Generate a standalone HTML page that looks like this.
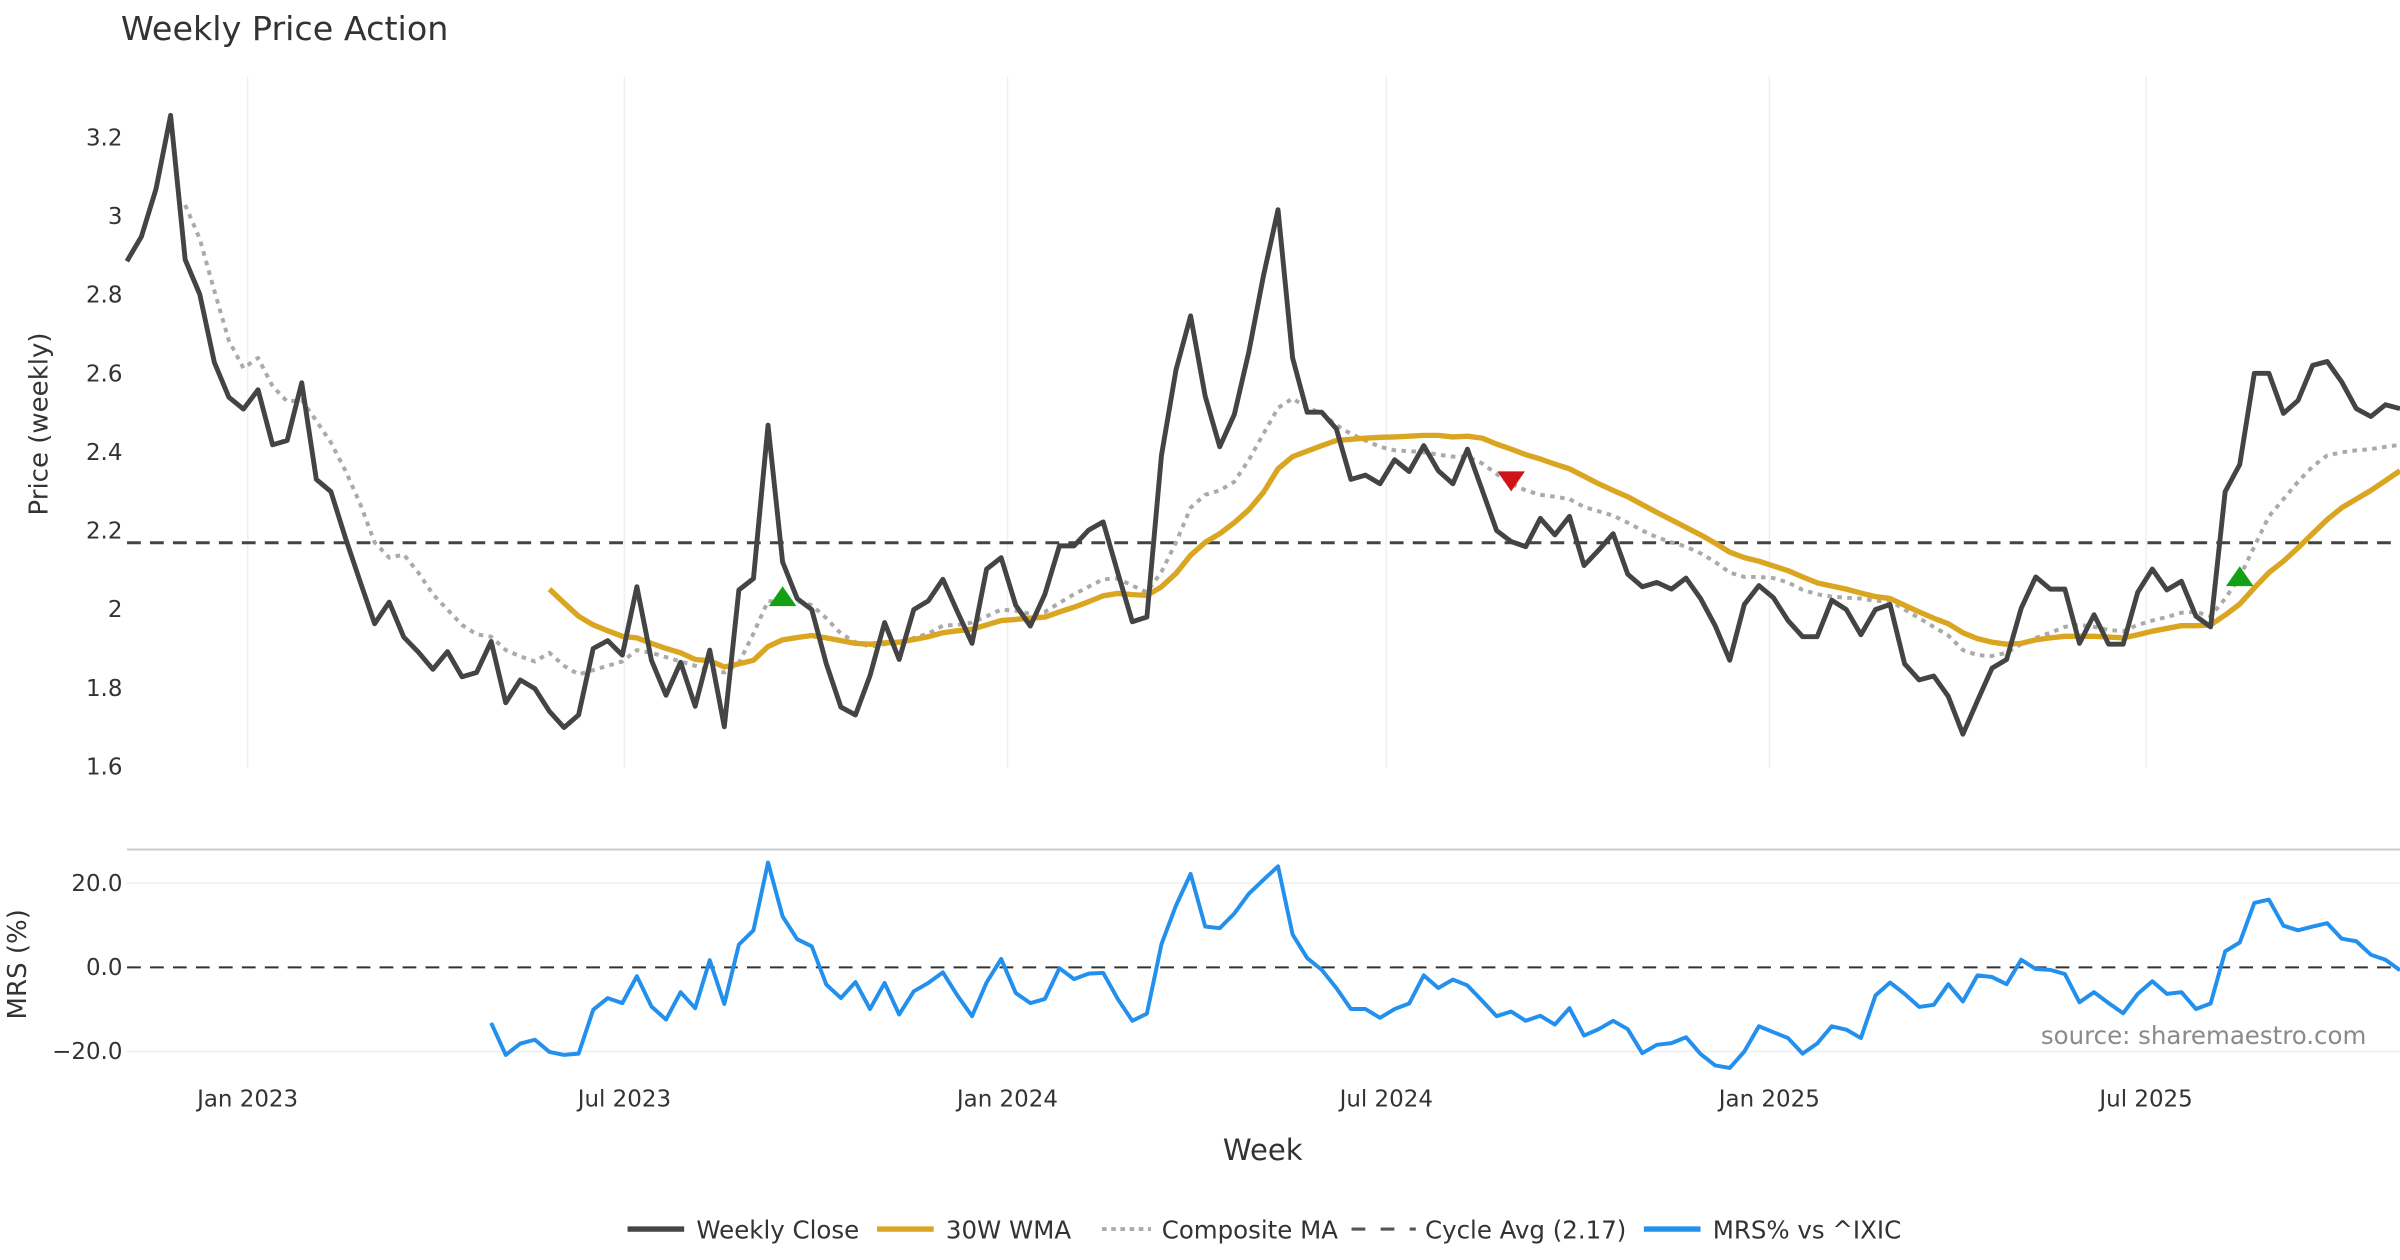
<!DOCTYPE html>
<html><head><meta charset="utf-8"><style>
html,body{margin:0;padding:0;background:#fff;}
svg{display:block;font-family:"DejaVu Sans","Liberation Sans",sans-serif;}
</style></head><body>
<svg id="chart" width="2400" height="1260" viewBox="0 0 1568 823.2" xmlns="http://www.w3.org/2000/svg">
<rect x="0" y="0" width="1568" height="823.2" fill="#fff"/>
<text x="79" y="26" font-size="21.8" fill="#333">Weekly Price Action</text>
<g id="grid"></g>
<g id="main"></g>
<g id="mrs"></g>
<g id="axes"></g>
<text transform="translate(31,277) rotate(-90)" text-anchor="middle" font-size="17" fill="#333">Price (weekly)</text>
<text transform="translate(17,630) rotate(-90)" text-anchor="middle" font-size="17" fill="#333">MRS (%)</text>
<text x="825" y="758" text-anchor="middle" font-size="19" fill="#333">Week</text>
<text x="1546" y="682" text-anchor="end" font-size="16" fill="#8a8a8a">source: sharemaestro.com</text>
<g font-size="16" fill="#333">
  <g><line x1="410" y1="803" x2="447" y2="803" stroke="#444" stroke-width="3.5"/><text x="455" y="809">Weekly Close</text></g>
  <g><line x1="573" y1="803" x2="610" y2="803" stroke="#DAA520" stroke-width="3.5"/><text x="618" y="809">30W WMA</text></g>
  <g><line x1="720" y1="803" x2="752" y2="803" stroke="#aaa" stroke-width="2.5" stroke-dasharray="3,3"/><text x="759" y="809">Composite MA</text></g>
  <g><line x1="883" y1="803" x2="925" y2="803" stroke="#555" stroke-width="2" stroke-dasharray="9,10"/><text x="931" y="809">Cycle Avg (2.17)</text></g>
  <g><line x1="1074" y1="803" x2="1111" y2="803" stroke="#2490EE" stroke-width="3.5"/><text x="1119" y="809">MRS% vs ^IXIC</text></g>
</g>
</svg>
<script>
const startDate = "2022-11-04";
const tickLabels = ["Jan 2023","Jul 2023","Jan 2024","Jul 2024","Jan 2025","Jul 2025"];
const tickDates = ["2023-01-01","2023-07-01","2024-01-01","2024-07-01","2025-01-01","2025-07-01"];
const priceTicks = [1.6,1.8,2,2.2,2.4,2.6,2.8,3,3.2];
const priceTickLabels = ["1.6","1.8","2","2.2","2.4","2.6","2.8","3","3.2"];
const mrsTicks = [-20,0,20];
const mrsTickLabels = ["\u221220.0","0.0","20.0"];
const cycleAvg = 2.17;
const closeValues = [2.886,2.949,3.070,3.257,2.890,2.802,2.629,2.540,2.510,2.559,2.419,2.430,2.577,2.331,2.300,2.182,2.072,1.964,2.019,1.930,1.892,1.848,1.893,1.829,1.840,1.919,1.763,1.821,1.799,1.741,1.700,1.732,1.901,1.921,1.884,2.058,1.871,1.782,1.866,1.754,1.897,
1.702,2.050,2.079,2.469,2.121,2.028,2.000,1.862,1.752,1.732,1.832,1.967,1.873,2.000,2.022,2.077,1.994,1.914,2.103,2.132,2.011,1.958,2.039,2.162,2.162,2.202,2.223,2.094,1.969,1.981,2.392,2.610,2.747,2.543,2.414,2.496,2.656,2.849,3.017,2.640,
2.502,2.502,2.460,2.331,2.342,2.320,2.381,2.351,2.417,2.353,2.320,2.408,2.305,2.201,2.173,2.160,2.232,2.190,2.237,2.112,2.151,2.193,2.090,2.058,2.069,2.052,2.080,2.028,1.959,1.871,2.013,2.061,2.030,1.972,1.931,1.931,2.024,2.000,1.936,2.000,
2.013,1.862,1.821,1.831,1.779,1.683,1.768,1.851,1.873,2.003,2.083,2.052,2.052,1.914,1.987,1.912,1.912,2.044,2.103,2.050,2.072,1.983,1.956,2.300,2.369,2.601,2.601,2.499,2.532,2.621,2.631,2.579,2.511,2.491,2.521,2.511];
const wmaStart = 29;
const wmaValues = [2.052,2.017,1.983,1.961,1.946,1.932,1.928,1.914,1.901,1.890,1.873,1.870,1.854,1.862,1.871,1.906,1.923,1.929,1.934,1.928,1.921,1.914,1.912,1.915,1.917,1.924,1.931,1.941,1.946,1.950,1.961,1.972,1.975,1.978,1.981,1.994,2.006,2.020,2.035,2.041,2.038,2.036,2.058,2.092,2.138,2.171,2.193,2.221,2.254,2.298,2.358,2.389,2.403,2.417,2.430,2.433,2.436,2.438,2.439,2.441,2.443,2.443,2.439,2.441,2.436,2.421,2.408,2.394,2.383,2.370,2.358,2.339,2.320,2.303,2.287,2.267,2.247,2.228,2.209,2.190,2.169,2.146,2.132,2.123,2.111,2.099,2.083,2.068,2.060,2.052,2.042,2.033,2.028,2.011,1.994,1.978,1.964,1.941,1.926,1.917,1.912,1.914,1.923,1.928,1.932,1.932,1.932,1.930,1.928,1.936,1.945,1.952,1.959,1.959,1.961,1.986,2.014,2.055,2.094,2.123,2.157,2.193,2.229,2.259,2.281,2.303,2.328,2.353];
const compStart = 4;
const compValues = [3.029,2.943,2.811,2.684,2.614,2.640,2.568,2.529,2.533,2.480,2.425,2.353,2.270,2.171,2.132,2.140,2.094,2.039,2.000,1.961,1.937,1.931,1.897,1.881,1.868,1.890,1.857,1.835,1.846,1.857,1.868,1.897,1.890,1.879,1.868,1.857,1.846,1.840,1.864,1.939,2.022,2.017,2.022,2.011,1.978,1.939,1.917,1.906,1.912,1.912,1.928,1.939,1.959,1.961,1.967,1.983,2.000,1.997,1.989,1.994,2.017,2.039,2.058,2.077,2.079,2.061,2.044,2.096,2.171,2.259,2.292,2.303,2.325,2.381,2.447,2.513,2.537,2.513,2.500,2.469,2.447,2.430,2.414,2.405,2.403,2.400,2.394,2.389,2.389,2.372,2.345,2.320,2.303,2.292,2.287,2.281,2.261,2.250,2.239,2.221,2.201,2.184,2.171,2.160,2.143,2.121,2.094,2.083,2.083,2.080,2.069,2.050,2.039,2.033,2.030,2.028,2.022,2.022,2.000,1.978,1.956,1.934,1.897,1.884,1.882,1.890,1.912,1.928,1.941,1.956,1.961,1.956,1.948,1.945,1.961,1.972,1.981,1.992,1.994,1.983,2.028,2.083,2.160,2.237,2.281,2.325,2.364,2.392,2.400,2.405,2.408,2.414,2.419];
const mrsStart = 25;
const mrsValues = [-13.2,-20.8,-18.1,-17.2,-20.1,-20.8,-20.5,-10.1,-7.3,-8.5,-2.1,-9.3,-12.4,-5.9,-9.7,1.7,-8.7,5.4,8.8,24.9,12.1,6.7,5.0,-4.1,-7.3,-3.5,-9.9,-3.7,-11.2,-5.7,-3.7,-1.2,-6.7,-11.6,-3.6,2.0,-6.1,-8.5,-7.5,-0.2,-2.8,-1.5,-1.3,-7.5,-12.7,-11.0,5.5,14.7,22.2,9.7,9.3,12.8,17.5,20.8,24.0,7.8,2.2,-0.6,-4.9,-9.9,-9.9,-12.0,-9.9,-8.6,-1.9,-4.9,-2.9,-4.3,-7.9,-11.6,-10.5,-12.7,-11.5,-13.6,-9.7,-16.2,-14.7,-12.7,-14.7,-20.4,-18.4,-18.0,-16.6,-20.6,-23.3,-23.9,-20.0,-14.0,-15.4,-16.8,-20.5,-18.1,-14.0,-14.8,-16.8,-6.7,-3.6,-6.3,-9.4,-8.9,-4.0,-8.1,-1.9,-2.3,-4.0,1.8,-0.4,-0.6,-1.6,-8.3,-5.9,-8.5,-10.9,-6.3,-3.3,-6.3,-5.9,-9.9,-8.6,3.8,5.9,15.3,16.1,9.9,8.8,9.7,10.5,6.8,6.2,3.0,1.8,-0.7];
const buySignalWeeks = [45,145];
const buySignalPrices = [2.032,2.083];
const sellSignalWeeks = [95];
const sellSignalPrices = [2.328];

const NS="http://www.w3.org/2000/svg";
const X0=82.9, XS=9.52;
function x(i){return X0+i*XS;}
function yP(v){return 90+(3.2-v)/1.6*411;}
function yM(v){return 632-v*2.75;}
function dateToWeek(d){return (new Date(d)-new Date(startDate))/(7*864e5);}
function mk(tag,attrs,parent){const e=document.createElementNS(NS,tag);for(const k in attrs)e.setAttribute(k,attrs[k]);parent.appendChild(e);return e;}
const grid=document.getElementById('grid'),main=document.getElementById('main'),mrs=document.getElementById('mrs'),axes=document.getElementById('axes');

tickDates.forEach((d,k)=>{
  const xx=x(dateToWeek(d));
  const gl=mk('line',{x1:xx,x2:xx,y1:50,y2:502,stroke:'#eef0f3','stroke-width':1},grid);
  
  
  const t=mk('text',{x:xx,y:723,'text-anchor':'middle','font-size':15,fill:'#333'},axes);
  t.textContent=tickLabels[k];
  
  
});
priceTicks.forEach((v,k)=>{
  const t=mk('text',{x:80,y:yP(v)+5,'text-anchor':'end','font-size':15,fill:'#333'},axes);
  t.textContent=priceTickLabels[k];
  
  
});
const sep=mk('line',{x1:83,x2:1568,y1:555,y2:555,stroke:'#ccc','stroke-width':1.3},axes);


mrsTicks.forEach((v,k)=>{
  if(v!==0){const g=mk('line',{x1:83,x2:1568,y1:yM(v),y2:yM(v),stroke:'#eceef1','stroke-width':1},grid);
  
  }
  const t=mk('text',{x:80,y:yM(v)+5,'text-anchor':'end','font-size':15,fill:'#333'},axes);
  t.textContent=mrsTickLabels[k];
  
  
});
function path(vals,start,yf,attrs,parent,name){
  const d=vals.map((v,j)=>(j?'L':'M')+x(start+j).toFixed(2)+','+yf(v).toFixed(2)).join('');
  const p=mk('path',Object.assign({d:d,fill:'none','stroke-linejoin':'round'},attrs),parent);
  
  
  return p;
}
const cyc=mk('line',{x1:83,x2:1568,y1:yP(cycleAvg),y2:yP(cycleAvg),stroke:'#444','stroke-width':2,'stroke-dasharray':'9,6'},main);


path(compValues,compStart,yP,{stroke:'#aaa','stroke-width':2.6,'stroke-dasharray':'3,3.5'},main,'composite-ma-line');
path(wmaValues,wmaStart,yP,{stroke:'#DAA520','stroke-width':3.5},main,'wma-line');
path(closeValues,0,yP,{stroke:'#444','stroke-width':3.2},main,'weekly-close-line');
buySignalWeeks.forEach((w,k)=>{
  const cx=x(w),cy=yP(buySignalPrices[k]);
  const t=mk('polygon',{points:`${cx-9},${cy+6} ${cx+9},${cy+6} ${cx},${cy-7}`,fill:'#14a014'},main);
  
  
});
sellSignalWeeks.forEach((w,k)=>{
  const cx=x(w),cy=yP(sellSignalPrices[k]);
  const t=mk('polygon',{points:`${cx-9},${cy-6} ${cx+9},${cy-6} ${cx},${cy+7}`,fill:'#d0141a'},main);
  
  
});
const z=mk('line',{x1:83,x2:1568,y1:yM(0),y2:yM(0),stroke:'#333','stroke-width':1.3,'stroke-dasharray':'9,6'},mrs);


path(mrsValues,mrsStart,yM,{stroke:'#2490EE','stroke-width':2.6},mrs,'mrs-line');
</script>
</body></html>
